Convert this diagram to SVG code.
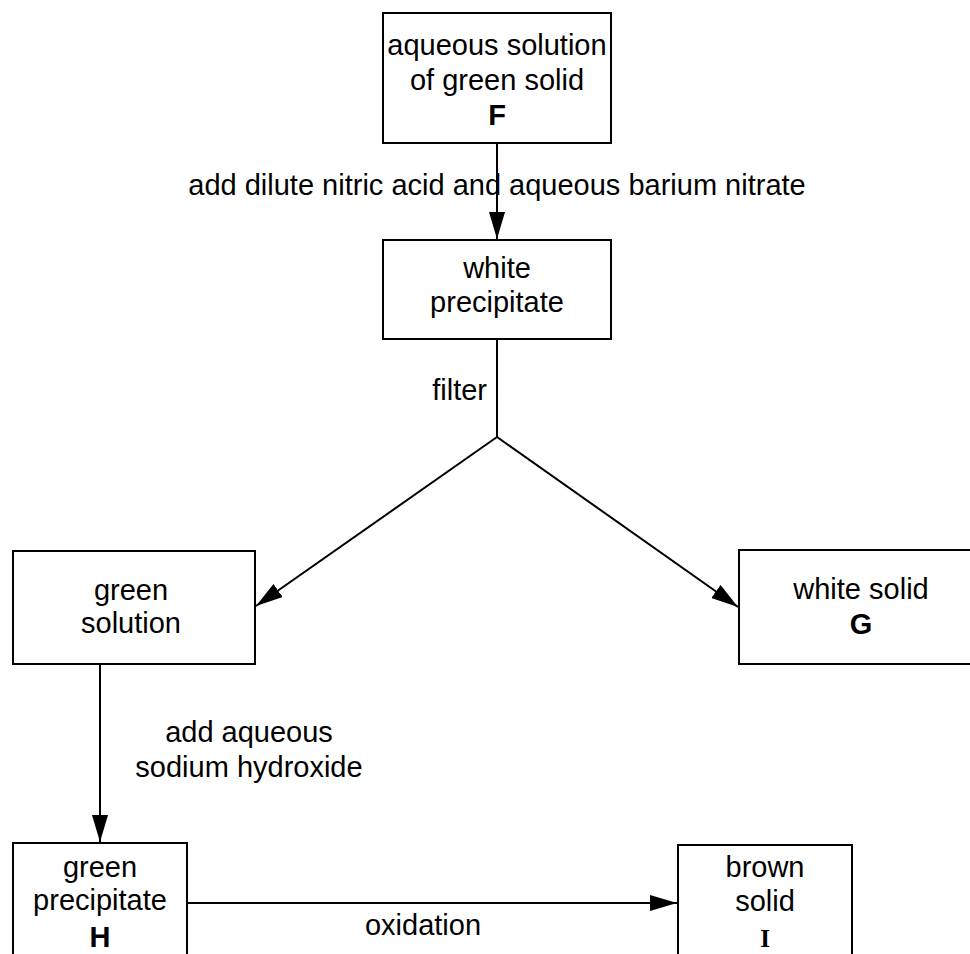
<svg xmlns="http://www.w3.org/2000/svg" width="970" height="954" viewBox="0 0 970 954">
<style>
  .box { fill: #fff; stroke: #000; stroke-width: 2; }
  .t { font-family: "Liberation Sans", Arial, Helvetica, sans-serif; font-size: 29px; fill: #000; text-anchor: middle; }
  .b { font-weight: bold; }
  .ser { font-family: "Liberation Serif", "Times New Roman", serif; font-weight: bold; font-size: 25px; }
  .ln { fill: none; stroke: #000; stroke-width: 2; }
</style>
<defs>
  <marker id="arr" markerUnits="userSpaceOnUse" markerWidth="28" markerHeight="16" refX="27" refY="8" orient="auto">
    <path d="M0,0 L27,8 L0,16 z" fill="#000"/>
  </marker>
</defs>
<rect width="970" height="954" fill="#fff"/>

<g id="connectors">
  <line class="ln" x1="497" y1="143" x2="497" y2="239" marker-end="url(#arr)"/>
  <text class="t" x="497" y="195">add dilute nitric acid and aqueous barium nitrate</text>
  <polyline class="ln" points="497,339 497,437"/>
  <text class="t" x="487" y="400" style="text-anchor:end">filter</text>
  <line class="ln" x1="497" y1="437" x2="256" y2="606" marker-end="url(#arr)"/>
  <line class="ln" x1="497" y1="437" x2="738" y2="607" marker-end="url(#arr)"/>
  <line class="ln" x1="100" y1="664" x2="100" y2="842" marker-end="url(#arr)"/>
  <text class="t" x="249" y="742">add aqueous</text>
  <text class="t" x="249" y="777">sodium hydroxide</text>
  <line class="ln" x1="187" y1="903" x2="677" y2="903" marker-end="url(#arr)"/>
  <text class="t" x="423" y="935">oxidation</text>
</g>

<g id="nodeF">
  <rect class="box" x="383" y="13" width="228" height="130"/>
  <text class="t" x="497" y="55">aqueous solution</text>
  <text class="t" x="497" y="90">of green solid</text>
  <text class="t b" x="497" y="125">F</text>
</g>

<g id="nodeWhitePrecipitate">
  <rect class="box" x="383" y="240" width="228" height="99"/>
  <text class="t" x="497" y="278">white</text>
  <text class="t" x="497" y="312">precipitate</text>
</g>

<g id="nodeGreenSolution">
  <rect class="box" x="13" y="551" width="242" height="113"/>
  <text class="t" x="131" y="600">green</text>
  <text class="t" x="131" y="633">solution</text>
</g>

<g id="nodeG">
  <rect class="box" x="739" y="550" width="245" height="114"/>
  <text class="t" x="861" y="599">white solid</text>
  <text class="t b" x="861" y="634">G</text>
</g>

<g id="nodeH">
  <rect class="box" x="13" y="843" width="174" height="130"/>
  <text class="t" x="100" y="877">green</text>
  <text class="t" x="100" y="910">precipitate</text>
  <text class="t b" x="100" y="947">H</text>
</g>

<g id="nodeI">
  <rect class="box" x="678" y="845" width="174" height="130"/>
  <text class="t" x="765" y="877">brown</text>
  <text class="t" x="765" y="911">solid</text>
  <text class="t ser" x="765" y="947">I</text>
</g>
</svg>
